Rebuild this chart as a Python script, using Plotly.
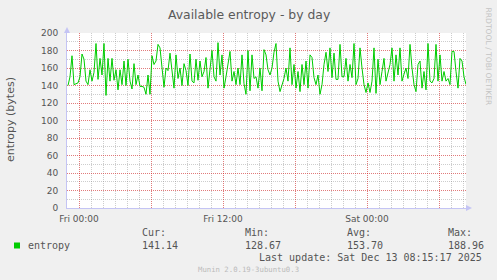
import plotly.graph_objects as go
import pandas as pd

# ---- data ----
start_time = "2025-12-11 23:05"
step_minutes = 10
entropy = [
    140, 150, 174, 141, 142, 143, 150, 176, 170, 145, 141, 158, 145, 155, 188, 147, 171,
    152, 188, 128.67, 171, 145, 171, 146, 158, 135, 158, 141, 168, 140, 170, 145, 136, 165,
    141, 152, 139, 139, 138, 130, 152, 130, 174, 164, 168, 187, 183, 158, 138, 160, 157,
    177, 157, 137, 175, 148, 160, 140, 165, 157, 140, 176, 145, 143, 170, 146, 168, 150,
    156, 172, 137, 162, 180, 150, 145, 188.96, 152, 175, 137, 150, 164, 179, 145, 156, 141,
    160, 141, 175, 142, 130, 180, 134, 175, 148, 150, 137, 160, 134, 181, 175, 158, 152,
    160, 178, 188, 145, 133, 141, 148, 160, 145, 183, 141, 164, 137, 156, 133, 164, 141,
    168, 137, 175, 172, 149, 141, 152, 130, 141, 164, 178, 156, 183, 149, 177, 147, 147,
    187, 150, 150, 171, 145, 164, 149, 188, 141, 148, 183, 160, 141, 132, 143, 132, 145,
    183, 131, 170, 141, 156, 171, 145, 156, 164, 183, 145, 175, 152, 183, 145, 153, 160,
    148, 187, 160, 141, 133, 164, 168, 137, 156, 135, 188, 145, 143, 148, 187, 145, 175,
    145, 156, 145, 148, 141, 179, 179, 156, 137, 171, 168, 150, 141.14,
]
times = pd.date_range(start=start_time, periods=len(entropy), freq=f"{step_minutes}min")

x_range = ["2025-12-11 23:00", "2025-12-13 08:15"]
major_ticks = ["2025-12-12 00:00", "2025-12-12 06:00", "2025-12-12 12:00",
               "2025-12-12 18:00", "2025-12-13 00:00", "2025-12-13 06:00"]
major_labels = ["Fri 00:00", "", "Fri 12:00", "", "Sat 00:00", ""]
y_ticks = [0, 20, 40, 60, 80, 100, 120, 140, 160, 180, 200]

legend_name = "entropy"
stat_heads = ["Cur:", "Min:", "Avg:", "Max:"]
stat_vals = ["141.14", "128.67", "153.70", "188.96"]
title_text = "Available entropy - by day"
y_title = "entropy (bytes)"
last_update = "Last update: Sat Dec 13 08:15:17 2025"
footer = "Munin 2.0.19-3ubuntu0.3"
side_text = "RRDTOOL / TOBI OETIKER"

# ---- layout geometry ----
W, H = 497, 280
L, R, T, B = 67, 31, 33, 72
PW, PH = W - L - R, H - T - B

def px(x):
    return (x - L) / PW

def py(y):
    return (H - B - y) / PH

GREEN = "#00CC00"
TXT = "#555555"
AXIS = "#C4C4F4"
MAJ = "rgba(255,0,0,0.4)"
MIN = "rgba(130,130,130,0.4)"

fig = go.Figure()
fig.add_trace(go.Scatter(x=times, y=entropy, mode="lines",
                         line=dict(color=GREEN, width=1), showlegend=False,
                         hoverinfo="skip"))

fig.update_layout(
    width=W, height=H,
    margin=dict(l=L, r=R, t=T, b=B, pad=0),
    paper_bgcolor="#F0F0F0", plot_bgcolor="#FFFFFF",
    showlegend=False,
    font=dict(family="DejaVu Sans", color=TXT, size=9),
)
fig.update_xaxes(
    type="date", range=x_range, tickvals=major_ticks, ticktext=major_labels,
    showgrid=True, gridcolor=MAJ, griddash="1px,1px", gridwidth=1,
    minor=dict(dtick=3600000, showgrid=True, gridcolor=MIN, griddash="1px,1px", gridwidth=1),
    showline=True, linecolor=AXIS, linewidth=1, zeroline=False,
    ticks="", ticklabelstandoff=2,
    tickfont=dict(family="DejaVu Sans", size=9, color=TXT),
)
fig.update_yaxes(
    range=[0, 200], tickvals=y_ticks,
    showgrid=True, gridcolor=MAJ, griddash="1px,1px", gridwidth=1,
    minor=dict(dtick=10, showgrid=True, gridcolor=MIN, griddash="1px,1px", gridwidth=1),
    showline=True, linecolor=AXIS, linewidth=1, zeroline=False,
    ticks="", ticklabelstandoff=6,
    tickfont=dict(family="DejaVu Sans", size=9, color=TXT),
)

# axis arrows
fig.add_shape(type="path", xref="paper", yref="paper", xsizemode="pixel", ysizemode="pixel",
              xanchor=0, yanchor=1, path="M -3 0 L 3 0 L 0 6 Z",
              fillcolor=AXIS, line=dict(width=0), layer="above")
fig.add_shape(type="path", xref="paper", yref="paper", xsizemode="pixel", ysizemode="pixel",
              xanchor=1, yanchor=0, path="M 0 -3 L 0 3 L 6 0 Z",
              fillcolor=AXIS, line=dict(width=0), layer="above")

ann = []
def text(x, y, s, size, color=TXT, family="DejaVu Sans", xa="left", angle=0):
    ann.append(dict(x=px(x), y=py(y), xref="paper", yref="paper", text=s, showarrow=False,
                    xanchor=xa, yanchor="middle", textangle=angle, borderpad=0,
                    font=dict(family=family, size=size, color=color)))

text(248.5, 14, title_text, 12.4, color="#5A5A5A", xa="center")
text(10.5, 119.5, y_title, 11, xa="center", angle=-90)
text(488, 56.5, side_text, 7.6, color="#C4C4C4", xa="center", angle=90)

MONO = "DejaVu Sans Mono"
text(26.7, 245, legend_name, 10, family=MONO)
stat_x = [140.7, 244, 345.7, 447.3]
for sx, h, v in zip(stat_x, stat_heads, stat_vals):
    text(sx, 232.3, h, 10, family=MONO)
    text(sx, 245, v, 10, family=MONO)
text(483.3, 257, last_update, 10, family=MONO, xa="right")
text(248.5, 269, footer, 7.3, color="#BBBBBB", family=MONO, xa="center")
fig.update_layout(annotations=ann)

fig.add_shape(type="rect", xref="paper", yref="paper",
              x0=px(14), x1=px(20), y0=py(248.5), y1=py(242.5),
              fillcolor=GREEN, line=dict(width=0))

fig.write_html("out.html")
